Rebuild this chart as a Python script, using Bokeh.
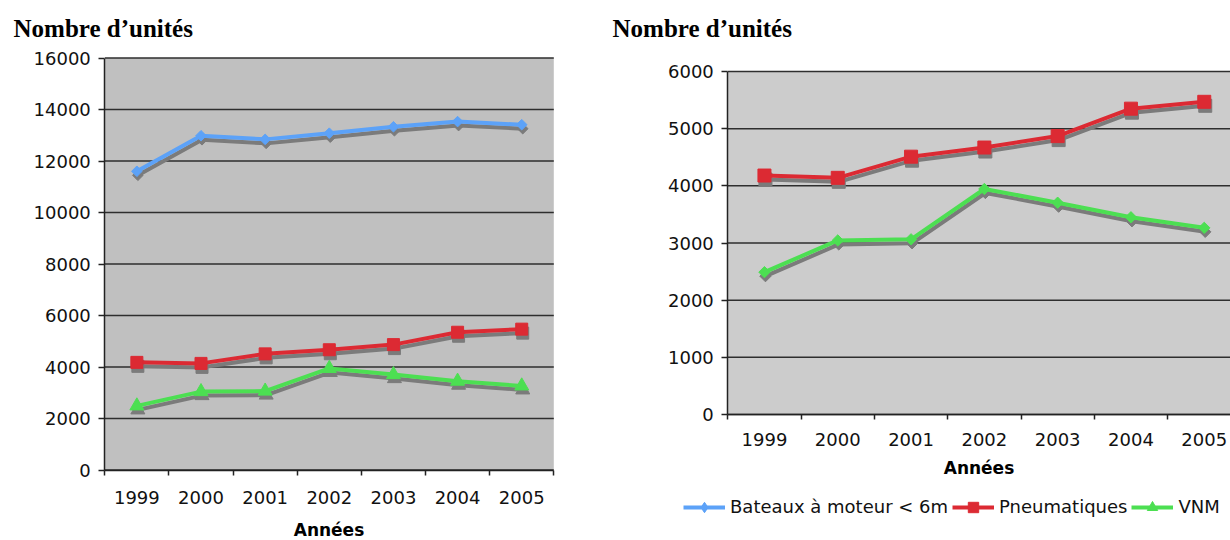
import numpy as np
from bokeh.plotting import figure
from bokeh.models import (Range1d, FixedTicker, Legend, LegendItem, Label,
                          BoxAnnotation, ColumnDataSource)
from bokeh.transform import dodge
from bokeh.layouts import row
from bokeh.embed import file_html
from bokeh.resources import INLINE

# ---------------- data ----------------
years = ["1999", "2000", "2001", "2002", "2003", "2004", "2005"]
bateaux = [11600, 12980, 12840, 13080, 13330, 13530, 13410]
pneumatiques = [4180, 4140, 4510, 4670, 4870, 5350, 5470]
vnm = [2490, 3045, 3065, 3945, 3705, 3450, 3265]
left_y_ticks = [0, 2000, 4000, 6000, 8000, 10000, 12000, 14000, 16000]
right_y_ticks = [0, 1000, 2000, 3000, 4000, 5000, 6000]
series_names = ["Bateaux à moteur < 6m", "Pneumatiques", "VNM"]
title_text = "Nombre d\u2019unités"
x_title = "Années"

# ---------------- style ----------------
BLUE = "#5CA2F8"
RED = "#DC2A33"
GREEN = "#4CDF52"
SHADOW = "#7B7B7B"
GRID_C = "#2e2e2e"
AXIS_C = "#222222"
FONT = "DejaVu Sans"
H = 540

x_pos = list(np.arange(len(years)) + 0.5)
src = ColumnDataSource(dict(x=x_pos, b=bateaux, p=pneumatiques, v=vnm))


def make_chart(W, ax_left, cat_px, zero_px, plot_h_px, y_ticks, bg,
               tick_standoff, label_standoff, title_x):
    """The frame covers the whole figure; axes sit at fixed data locations."""
    ppu = plot_h_px / y_ticks[-1]
    x_lo = -ax_left / cat_px
    x_hi = (W - ax_left) / cat_px
    p = figure(width=W, height=H, output_backend="svg", toolbar_location=None,
               x_range=Range1d(x_lo, x_hi),
               y_range=Range1d(-(H - zero_px) / ppu, zero_px / ppu),
               min_border_left=0, min_border_right=0,
               min_border_top=0, min_border_bottom=0)
    p.background_fill_color = "white"
    p.border_fill_color = "white"
    p.outline_line_color = None
    p.xgrid.visible = False
    p.ygrid.visible = False

    x_end = min(len(years), x_hi)
    p.add_layout(BoxAnnotation(left=0, right=x_end, bottom=y_ticks[0], top=y_ticks[-1],
                               fill_color=bg, fill_alpha=1, line_color=None,
                               level="image"))
    p.segment(x0=0, x1=x_end, y0=y_ticks, y1=y_ticks, line_color=GRID_C,
              line_width=1.5, level="underlay")

    xa = p.xaxis[0]
    xa.fixed_location = 0
    xa.bounds = (0, len(years))
    xa.ticker = FixedTicker(ticks=x_pos, minor_ticks=list(range(len(years) + 1)))
    xa.major_label_overrides = {float(x): y for x, y in zip(x_pos, years)}
    xa.major_tick_out = 0
    xa.major_tick_in = 0
    xa.minor_tick_out = 5
    xa.minor_tick_in = 0
    xa.minor_tick_line_color = AXIS_C
    xa.minor_tick_line_width = 1.5
    xa.axis_line_color = AXIS_C
    xa.axis_line_width = 1.5
    xa.major_label_text_font = FONT
    xa.major_label_text_font_size = "18px"
    xa.major_label_text_color = "#111111"
    xa.major_label_standoff = tick_standoff
    xa.axis_label = x_title
    xa.axis_label_text_font = FONT
    xa.axis_label_text_font_style = "bold"
    xa.axis_label_text_font_size = "17px"
    xa.axis_label_text_color = "black"
    xa.axis_label_standoff = label_standoff

    ya = p.yaxis[0]
    ya.fixed_location = 0
    ya.bounds = (y_ticks[0], y_ticks[-1])
    ya.ticker = FixedTicker(ticks=y_ticks)
    ya.major_tick_out = 6
    ya.major_tick_in = 0
    ya.major_tick_line_color = AXIS_C
    ya.major_tick_line_width = 1.5
    ya.minor_tick_line_color = None
    ya.axis_line_color = AXIS_C
    ya.axis_line_width = 1.5
    ya.major_label_text_font = FONT
    ya.major_label_text_font_size = "18px"
    ya.major_label_text_color = "#111111"
    ya.major_label_standoff = 8

    p.add_layout(Label(x=title_x, y=H - 27.5, x_units="screen", y_units="screen",
                       text=title_text, text_font="Liberation Serif",
                       text_font_style="bold", text_font_size="25px",
                       text_color="black", text_align="left", text_baseline="middle"))
    return p, 1 / cat_px, 1 / ppu


def add_series(p, col, color, marker, size, angle, dx, dy):
    xs = dodge("x", dx, range=p.x_range)
    ys = dodge(col, dy, range=p.y_range)
    p.line(x=xs, y=ys, source=src, line_color=SHADOW, line_width=4, line_join="round")
    p.scatter(x=xs, y=ys, source=src, marker=marker, size=size, angle=angle,
              fill_color=SHADOW, line_color=SHADOW)
    p.line(x="x", y=col, source=src, line_color=color, line_width=4, line_join="round")
    p.scatter(x="x", y=col, source=src, marker=marker, size=size, angle=angle,
              fill_color=color, line_color=color)


# ================= left chart =================
L_W = 608
p1, ppx_l, ppy_l = make_chart(L_W, 104.3, 449 / len(years), 469.5, 412,
                              left_y_ticks, "#C0C0C0", 16, 12, 13)
add_series(p1, "b", BLUE, "square", 7.5, np.pi / 4, 1 * ppx_l, -4 * ppy_l)
add_series(p1, "p", RED, "square", 12, 0, 1 * ppx_l, -4 * ppy_l)
add_series(p1, "v", GREEN, "triangle", 14, 0, 1 * ppx_l, -4 * ppy_l)

# ================= right chart =================
R_W = 622
p2, ppx_r, ppy_r = make_chart(R_W, 119.3, 73.3, 414, 343,
                              right_y_ticks, "#CCCCCC", 13, 9, 612 - L_W)
add_series(p2, "p", RED, "square", 13, 0, 1 * ppx_r, -4 * ppy_r)
add_series(p2, "v", GREEN, "square", 8, np.pi / 4, 1 * ppx_r, -4 * ppy_r)

# legend glyphs: the three series on a y range that lies outside the frame
p2.extra_y_ranges = {"legend_only": Range1d(-200000, -100000)}
kw = dict(source=src, y_range_name="legend_only")
lb = p2.line(x="x", y="b", line_color=BLUE, line_width=4, **kw)
mb = p2.scatter(x="x", y="b", marker="diamond", size=10, fill_color=BLUE,
                line_color=BLUE, **kw)
lr = p2.line(x="x", y="p", line_color=RED, line_width=4, **kw)
mr = p2.scatter(x="x", y="p", marker="square", size=10, fill_color=RED,
                line_color=RED, **kw)
lg = p2.line(x="x", y="v", line_color=GREEN, line_width=4, **kw)
mg = p2.scatter(x="x", y="v", marker="triangle", size=10, fill_color=GREEN,
                line_color=GREEN, **kw)
legend = Legend(items=[LegendItem(label=series_names[0], renderers=[lb, mb]),
                       LegendItem(label=series_names[1], renderers=[lr, mr]),
                       LegendItem(label=series_names[2], renderers=[lg, mg])],
                orientation="horizontal", location=(683 - L_W, H - 519.5),
                padding=0, margin=0, spacing=4, glyph_width=42, glyph_height=26,
                label_standoff=5, label_text_font=FONT, label_text_font_size="18px",
                label_text_color="#111111", border_line_color=None,
                background_fill_alpha=0)
p2.add_layout(legend, "center")

open("out.html", "w").write(file_html(row(p1, p2), INLINE))
